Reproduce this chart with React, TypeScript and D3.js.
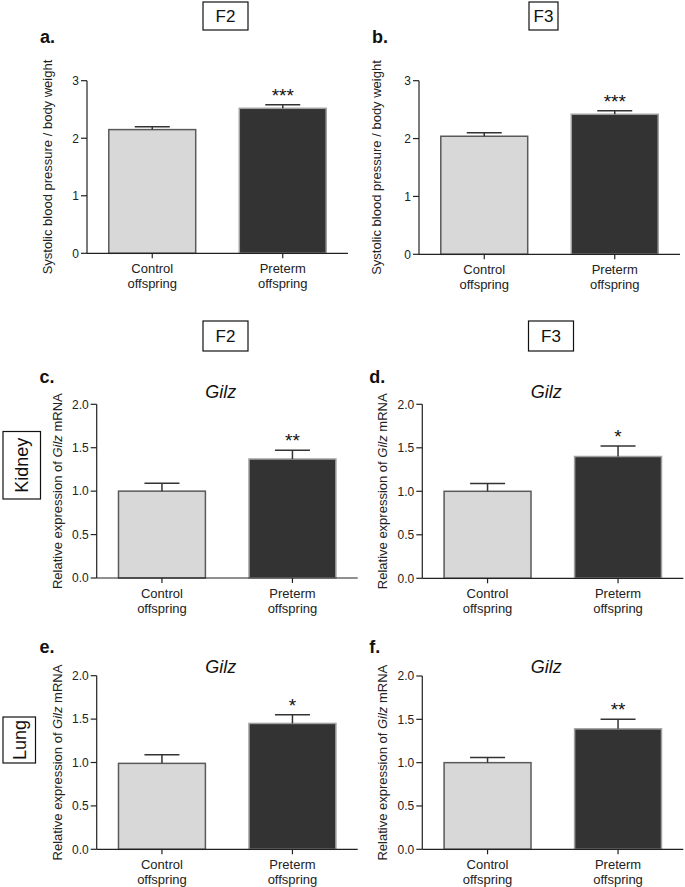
import * as d3 from "d3";
import { useEffect, useRef } from "react";

// groups on the x axis, first line / second line
const groupsLine1 = ["Control", "Preterm"];
const groupsLine2 = ["offspring", "offspring"];

// blood pressure / body weight
const bpF2Mean = [2.15, 2.52];
const bpF2Err = [0.05, 0.06];
const bpF3Mean = [2.04, 2.42];
const bpF3Err = [0.06, 0.06];

// Gilz mRNA, kidney
const kidneyF2Mean = [1.0, 1.37];
const kidneyF2Err = [0.09, 0.1];
const kidneyF3Mean = [1.0, 1.4];
const kidneyF3Err = [0.09, 0.12];

// Gilz mRNA, lung
const lungF2Mean = [0.99, 1.45];
const lungF2Err = [0.1, 0.1];
const lungF3Mean = [1.0, 1.39];
const lungF3Err = [0.06, 0.11];

const stars = ["***", "***", "**", "*", "*", "**"];
const bpTicks = [0, 1, 2, 3];
const gilzTicks = [0, 0.5, 1.0, 1.5, 2.0];

const FONT = "'Liberation Sans', Arial, sans-serif";

interface Panel {
	letter: string;
	mean: number[];
	err: number[];
	stars: string;
	ticks: number[];
	fmt: (n: number) => string;
	gilz: boolean;
	axisX: number;
	yTop: number;
	yBottom: number;
	letterX: number;
	letterY: number;
	titleY: number;
	labelX: number;
}

function App() {
	const ref = useRef<SVGSVGElement>(null);

	useEffect(() => {
		const svg = d3.select(ref.current);
		svg.selectAll("*").remove();
		const f0 = d3.format("d");
		const f1 = d3.format(".1f");

		const panels: Panel[] = [
			{ letter: "a.", mean: bpF2Mean, err: bpF2Err, stars: stars[0], ticks: bpTicks, fmt: f0, gilz: false,
				axisX: 87, yTop: 80.7, yBottom: 253.3, letterX: 40, letterY: 43, titleY: 0, labelX: 47.5 },
			{ letter: "b.", mean: bpF3Mean, err: bpF3Err, stars: stars[1], ticks: bpTicks, fmt: f0, gilz: false,
				axisX: 419, yTop: 80.7, yBottom: 254.3, letterX: 372, letterY: 43, titleY: 0, labelX: 376.7 },
			{ letter: "c.", mean: kidneyF2Mean, err: kidneyF2Err, stars: stars[2], ticks: gilzTicks, fmt: f1, gilz: true,
				axisX: 96.7, yTop: 404.3, yBottom: 578, letterX: 39.5, letterY: 383, titleY: 397.5, labelX: 57.5 },
			{ letter: "d.", mean: kidneyF3Mean, err: kidneyF3Err, stars: stars[3], ticks: gilzTicks, fmt: f1, gilz: true,
				axisX: 422.3, yTop: 404.3, yBottom: 578.3, letterX: 369.3, letterY: 382.5, titleY: 397.5, labelX: 382.5 },
			{ letter: "e.", mean: lungF2Mean, err: lungF2Err, stars: stars[4], ticks: gilzTicks, fmt: f1, gilz: true,
				axisX: 96.7, yTop: 675.7, yBottom: 849.3, letterX: 39.5, letterY: 653, titleY: 673.3, labelX: 57.5 },
			{ letter: "f.", mean: lungF3Mean, err: lungF3Err, stars: stars[5], ticks: gilzTicks, fmt: f1, gilz: true,
				axisX: 422.3, yTop: 676, yBottom: 849.3, letterX: 369.3, letterY: 653, titleY: 672.5, labelX: 382.5 },
		];

		panels.forEach((p) => {
			const g = svg.append("g");
			const x = d3
				.scaleBand<number>()
				.domain([0, 1])
				.range([p.axisX, p.axisX + 261])
				.paddingInner(0.334)
				.paddingOuter(0.167);
			const y = d3
				.scaleLinear()
				.domain([0, p.ticks[p.ticks.length - 1]])
				.range([p.yBottom, p.yTop]);
			const bw = x.bandwidth();

			// bars
			g.selectAll("rect.bar")
				.data(p.mean)
				.enter()
				.append("rect")
				.attr("x", (_, i) => x(i)!)
				.attr("y", (d) => y(d))
				.attr("width", bw)
				.attr("height", (d) => y(0) - y(d))
				.attr("fill", (_, i) => (i === 0 ? "#d8d8d8" : "#333333"))
				.attr("stroke", (_, i) => (i === 0 ? "#5a5a5a" : "#a0a0a0"))
				.attr("stroke-width", 1.5);

			// error bars (upper only)
			p.mean.forEach((m, i) => {
				const cx = x(i)! + bw / 2;
				const top = y(m + p.err[i]);
				g.append("line")
					.attr("x1", cx).attr("x2", cx)
					.attr("y1", y(m)).attr("y2", top)
					.attr("stroke", "#333").attr("stroke-width", 1.5);
				g.append("line")
					.attr("x1", cx - 17.5).attr("x2", cx + 17.5)
					.attr("y1", top).attr("y2", top)
					.attr("stroke", "#333").attr("stroke-width", 1.5);
			});

			// significance stars
			const last = p.mean.length - 1;
			g.append("text")
				.attr("x", x(last)! + bw / 2)
				.attr("y", y(p.mean[last] + p.err[last]) - 3)
				.attr("text-anchor", "middle")
				.style("font-family", FONT)
				.style("font-size", "19px")
				.attr("fill", "#111")
				.text(p.stars);

			// y axis
			g.append("line")
				.attr("x1", p.axisX).attr("x2", p.axisX)
				.attr("y1", y(0)).attr("y2", y.range()[1])
				.attr("stroke", "#222").attr("stroke-width", 1.2);
			p.ticks.forEach((t) => {
				g.append("line")
					.attr("x1", p.axisX - 6).attr("x2", p.axisX)
					.attr("y1", y(t)).attr("y2", y(t))
					.attr("stroke", "#222").attr("stroke-width", 1.2);
				g.append("text")
					.attr("x", p.axisX - 8)
					.attr("y", y(t))
					.attr("dy", "0.36em")
					.attr("text-anchor", "end")
					.style("font-family", FONT)
					.style("font-size", "12px")
					.attr("fill", "#222")
					.text(p.fmt(t));
			});

			// x axis
			g.append("line")
				.attr("x1", p.axisX).attr("x2", x.range()[1])
				.attr("y1", y(0)).attr("y2", y(0))
				.attr("stroke", "#222").attr("stroke-width", 1.2);
			[0, 1].forEach((i) => {
				const cx = x(i)! + bw / 2;
				g.append("line")
					.attr("x1", cx).attr("x2", cx)
					.attr("y1", y(0)).attr("y2", y(0) + 5)
					.attr("stroke", "#222").attr("stroke-width", 1.2);
				g.append("text")
					.attr("x", cx).attr("y", y(0) + 20)
					.attr("text-anchor", "middle")
					.style("font-family", FONT).style("font-size", "13px")
					.attr("fill", "#222")
					.text(groupsLine1[i]);
				g.append("text")
					.attr("x", cx).attr("y", y(0) + 34.5)
					.attr("text-anchor", "middle")
					.style("font-family", FONT).style("font-size", "13px")
					.attr("fill", "#222")
					.text(groupsLine2[i]);
			});

			// y label
			const yl = g.append("text")
				.attr("transform", "translate(" + p.labelX + "," + (p.yTop + p.yBottom) / 2 + ") rotate(-90)")
				.attr("dy", "0.35em")
				.attr("text-anchor", "middle")
				.style("font-family", FONT)
				.style("font-size", "13px")
				.attr("fill", "#222");
			if (p.gilz) {
				yl.append("tspan").text("Relative expression of ");
				yl.append("tspan").style("font-style", "italic").text("Gilz");
				yl.append("tspan").text(" mRNA");
				g.append("text")
					.attr("x", p.axisX + 124)
					.attr("y", p.titleY)
					.attr("text-anchor", "middle")
					.style("font-family", FONT)
					.style("font-size", "18px")
					.style("font-style", "italic")
					.attr("fill", "#111")
					.text("Gilz");
			} else {
				yl.text("Systolic blood pressure / body weight");
			}

			// panel letter
			g.append("text")
				.attr("x", p.letterX).attr("y", p.letterY)
				.style("font-family", FONT)
				.style("font-size", "18px")
				.style("font-weight", "bold")
				.attr("fill", "#111")
				.text(p.letter);
		});

		// generation boxes
		const boxes = [
			{ label: "F2", x: 203, y: 2, w: 45, h: 28 },
			{ label: "F3", x: 529, y: 2, w: 29, h: 28 },
			{ label: "F2", x: 203, y: 321, w: 45, h: 30 },
			{ label: "F3", x: 528.5, y: 321, w: 45, h: 30 },
		];
		boxes.forEach((b) => {
			svg.append("rect")
				.attr("x", b.x).attr("y", b.y)
				.attr("width", b.w).attr("height", b.h)
				.attr("fill", "white").attr("stroke", "#111").attr("stroke-width", 1.2);
			svg.append("text")
				.attr("x", b.x + b.w / 2).attr("y", b.y + b.h / 2)
				.attr("dy", "0.36em")
				.attr("text-anchor", "middle")
				.style("font-family", FONT).style("font-size", "17px")
				.attr("fill", "#111")
				.text(b.label);
		});

		// tissue boxes
		const tissues = [
			{ label: "Kidney", x: 3, y: 431.5, w: 37.5, h: 67.5 },
			{ label: "Lung", x: 3, y: 717, w: 32.5, h: 46 },
		];
		tissues.forEach((t) => {
			svg.append("rect")
				.attr("x", t.x).attr("y", t.y)
				.attr("width", t.w).attr("height", t.h)
				.attr("fill", "white").attr("stroke", "#111").attr("stroke-width", 1.2);
			svg.append("text")
				.attr("transform", "translate(" + (t.x + t.w / 2) + "," + (t.y + t.h / 2) + ") rotate(-90)")
				.attr("dy", "0.36em")
				.attr("text-anchor", "middle")
				.style("font-family", FONT).style("font-size", "18px")
				.attr("fill", "#111")
				.text(t.label);
		});
	}, []);

	return (
		<svg
			ref={ref}
			width={685}
			height={887}
			style={{ position: "absolute", left: 0, top: 0, background: "white" }}
		/>
	);
}

export default App;
